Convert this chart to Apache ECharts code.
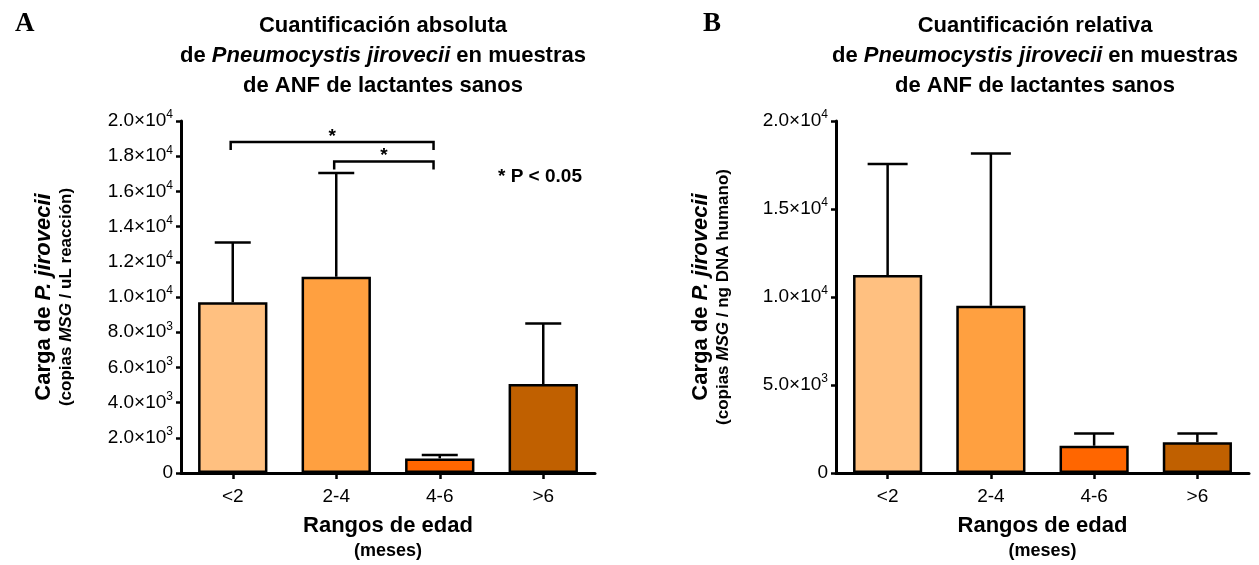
<!DOCTYPE html>
<html>
<head>
<meta charset="utf-8">
<script src="https://cdn.jsdelivr.net/npm/echarts@6/dist/echarts.min.js"></script>
<style>
html,body{margin:0;padding:0;background:#fff;}
#c{width:1259px;height:565px;}
</style>
</head>
<body>
<div id="c"></div>
<script>
// ---- data ----
const categories = ['<2', '2-4', '4-6', '>6'];
const absMean = [9700, 11150, 830, 5050];
const absUpper = [13100, 17050, 1020, 8500];
const relMean = [11250, 9500, 1550, 1750];
const relUpper = [17550, 18150, 2250, 2250];
const barColors = ['#FFC080', '#FFA040', '#FF6600', '#C06000'];
const absAxis = { min: 0, max: 20000, interval: 2000 };
const relAxis = { min: 0, max: 20000, interval: 5000 };
// brackets: [fromCategory, toCategory, yValue, label]
const absBrackets = [[0, 2, 18800, '*'], [1, 2, 17700, '*']];

const FONT = '"Liberation Sans", Arial, sans-serif';

function sciLabel(v) {
  if (v === 0) return '{m|0}';
  const e = Math.floor(Math.log10(v) + 1e-9);
  const m = (v / Math.pow(10, e)).toFixed(1);
  return '{m|' + m + '×10}{s|' + e + '}';
}
const richTick = {
  m: { fontSize: 19, fontFamily: FONT, color: '#000', lineHeight: 24 },
  s: { fontSize: 12, fontFamily: FONT, color: '#000', verticalAlign: 'top', lineHeight: 24 }
};

function yAxisCfg(gi, ax, sub) {
  return {
    type: 'value', gridIndex: gi, min: ax.min, max: ax.max, interval: ax.interval,
    axisLine: { show: true, lineStyle: { color: '#000', width: 3 } },
    axisTick: { show: true, length: 5, lineStyle: { color: '#000', width: 2.5 } },
    splitLine: { show: false },
    axisLabel: { margin: 8, formatter: sciLabel, rich: richTick },
    name: '{a|Carga de }{ai|P. jirovecii}\n{b|(copias }{bi|MSG}{b| / ' + sub + ')}',
    nameLocation: 'middle', nameGap: gi === 0 ? 104 : 102,
    nameTextStyle: {
      rich: {
        a: { fontSize: 22, fontWeight: 'bold', fontFamily: FONT, color: '#000', lineHeight: 24 },
        ai: { fontSize: 22, fontWeight: 'bold', fontStyle: 'italic', fontFamily: FONT, color: '#000', lineHeight: 24 },
        b: { fontSize: 17, fontWeight: 'bold', fontFamily: FONT, color: '#000', lineHeight: 21 },
        bi: { fontSize: 17, fontWeight: 'bold', fontStyle: 'italic', fontFamily: FONT, color: '#000', lineHeight: 21 }
      }
    }
  };
}
function xAxisCfg(gi) {
  return {
    type: 'category', gridIndex: gi, data: categories,
    axisLine: { show: true, lineStyle: { color: '#000', width: 3 } },
    axisTick: { show: true, alignWithLabel: true, length: 6, lineStyle: { color: '#000', width: 2.5 } },
    axisLabel: { margin: 14, fontSize: 19, fontFamily: FONT, color: '#000' },
    name: '{a|Rangos de edad}\n{b|(meses)}',
    nameLocation: 'middle', nameGap: 40,
    nameTextStyle: {
      rich: {
        a: { fontSize: 22, fontWeight: 'bold', fontFamily: FONT, color: '#000', lineHeight: 26, align: 'center' },
        b: { fontSize: 18, fontWeight: 'bold', fontFamily: FONT, color: '#000', lineHeight: 24, align: 'center' }
      }
    }
  };
}
function barSeries(gi, vals) {
  return {
    type: 'bar', xAxisIndex: gi, yAxisIndex: gi, barWidth: '67%',
    data: vals.map((v, i) => ({ value: v, itemStyle: { color: barColors[i] } })),
    itemStyle: { borderColor: '#000', borderWidth: 2.5 },
    emphasis: { disabled: true }, animation: false
  };
}
function errSeries(gi, mean, upper, half) {
  return {
    type: 'custom', xAxisIndex: gi, yAxisIndex: gi, z: 5, animation: false,
    data: mean.map((m, i) => [i, m, upper[i]]),
    renderItem: function (params, api) {
      const base = api.coord([api.value(0), api.value(1)]);
      const top = api.coord([api.value(0), api.value(2)]);
      const st = { stroke: '#000', lineWidth: 2.5 };
      return {
        type: 'group', children: [
          { type: 'line', shape: { x1: base[0], y1: base[1], x2: top[0], y2: top[1] }, style: st },
          { type: 'line', shape: { x1: top[0] - half, y1: top[1], x2: top[0] + half, y2: top[1] }, style: st }
        ]
      };
    }
  };
}
function bracketSeries(gi, brackets) {
  return {
    type: 'custom', xAxisIndex: gi, yAxisIndex: gi, z: 6, animation: false,
    data: brackets.map(b => [b[0], b[1], b[2]]),
    renderItem: function (params, api) {
      const bw = api.size([1, 0])[0];
      const p1 = api.coord([api.value(0), api.value(2)]);
      const p2 = api.coord([api.value(1), api.value(2)]);
      const x1 = p1[0] - 0.02 * bw, x2 = p2[0] - 0.06 * bw, y = p1[1];
      const drop = 8;
      const st = { stroke: '#000', lineWidth: 2.5, fill: null };
      const lbl = brackets[params.dataIndex][3];
      return {
        type: 'group', children: [
          { type: 'polyline', shape: { points: [[x1, y + drop], [x1, y], [x2, y], [x2, y + drop]] }, style: st },
          { type: 'text', style: { text: lbl, x: (x1 + x2) / 2, y: y + 4, textAlign: 'center', textVerticalAlign: 'bottom', font: 'bold 19px ' + FONT, fill: '#000' } }
        ]
      };
    }
  };
}

const chart = echarts.init(document.getElementById('c'), null, { renderer: 'canvas' });
const titleRich = {
  b: { fontSize: 22, fontWeight: 'bold', fontFamily: FONT, color: '#000', lineHeight: 30 },
  bi: { fontSize: 22, fontWeight: 'bold', fontStyle: 'italic', fontFamily: FONT, color: '#000', lineHeight: 30 }
};
chart.setOption({
  backgroundColor: '#fff',
  animation: false,
  title: [
    { text: 'A', left: 10, top: 6, textStyle: { fontFamily: '"Liberation Serif", serif', fontWeight: 'bold', fontSize: 27, color: '#000' } },
    { text: 'B', left: 698, top: 6, textStyle: { fontFamily: '"Liberation Serif", serif', fontWeight: 'bold', fontSize: 27, color: '#000' } },
    { text: '{b|Cuantificación absoluta}\n{b|de }{bi|Pneumocystis jirovecii}{b| en muestras}\n{b|de ANF de lactantes sanos}',
      left: 378, top: 6, textAlign: 'center', textStyle: { rich: titleRich, align: 'center' } },
    { text: '{b|Cuantificación relativa}\n{b|de }{bi|Pneumocystis jirovecii}{b| en muestras}\n{b|de ANF de lactantes sanos}',
      left: 1030, top: 6, textAlign: 'center', textStyle: { rich: titleRich, align: 'center' } }
  ],
  graphic: [
    { type: 'text', left: 498, top: 167, style: { text: '* P < 0.05', font: 'bold 19px ' + FONT, fill: '#000' } }
  ],
  grid: [
    { left: 181, top: 121, width: 414, height: 353 },
    { left: 836, top: 121, width: 413, height: 353 }
  ],
  xAxis: [xAxisCfg(0), xAxisCfg(1)],
  yAxis: [yAxisCfg(0, absAxis, 'uL reacción'), yAxisCfg(1, relAxis, 'ng DNA humano')],
  series: [
    barSeries(0, absMean), errSeries(0, absMean, absUpper, 18), bracketSeries(0, absBrackets),
    barSeries(1, relMean), errSeries(1, relMean, relUpper, 20)
  ]
});
</script>
</body>
</html>
